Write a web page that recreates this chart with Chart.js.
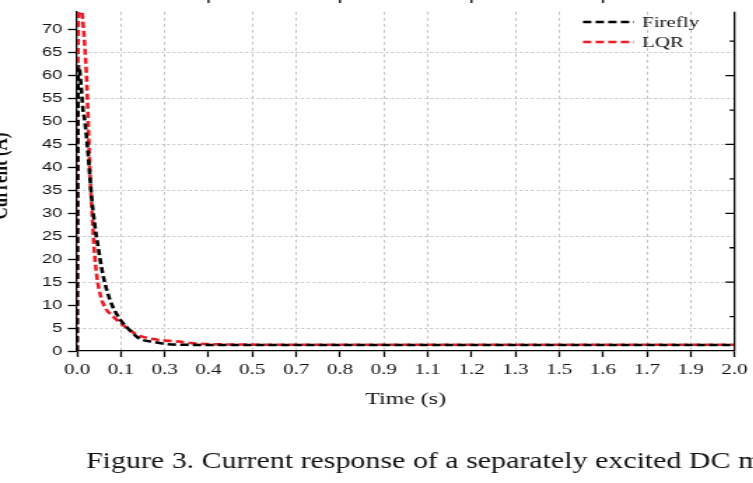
<!DOCTYPE html>
<html>
<head>
<meta charset="utf-8">
<script src="https://cdn.jsdelivr.net/npm/chart.js@4.4.1/dist/chart.umd.min.js"></script>
<style>
  html, body { margin: 0; padding: 0; background: #fff; }
  #wrap { width: 753px; height: 483px; overflow: hidden; }
  /* the source figure is stretched sideways, so the canvas is too */
  #currentChart { transform: scaleX(1.4); transform-origin: 0 0; }
</style>
</head>
<body>
<div id="wrap"><canvas id="currentChart" width="538" height="483"></canvas></div>
<script>
// values
const seriesNames = ['Firefly', 'LQR'];
const fireflyTime    = [0, 0.003, 0.006, 0.012, 0.018, 0.024, 0.033, 0.045, 0.054, 0.063, 0.078, 0.100, 0.130, 0.160, 0.190, 0.230, 0.272, 0.33, 0.45, 0.7, 1.0, 1.5, 2.0];
const fireflyCurrent = [0, 58, 62, 58, 52.7, 50, 43.6, 33, 27.4, 23.2, 16.9, 11.2, 7.0, 4.6, 2.7, 2.0, 1.5, 1.35, 1.3, 1.3, 1.3, 1.3, 1.3];
const lqrTime    = [0, 0.003, 0.008, 0.015, 0.024, 0.030, 0.035, 0.040, 0.046, 0.052, 0.060, 0.070, 0.085, 0.106, 0.139, 0.181, 0.241, 0.302, 0.371, 0.5, 0.7, 1.0, 1.5, 2.0];
const lqrCurrent = [0, 66, 77, 74, 66, 58, 48, 38, 30, 22.5, 16.5, 12.5, 9.5, 7.8, 5.7, 3.6, 2.5, 2.1, 1.6, 1.4, 1.35, 1.35, 1.35, 1.35];
const xTickLabels = ['0.0', '0.1', '0.3', '0.4', '0.5', '0.7', '0.8', '0.9', '1.1', '1.2', '1.3', '1.5', '1.6', '1.7', '1.9', '2.0'];
const yTickLabels = ['0', '5', '10', '15', '20', '25', '30', '35', '40', '45', '50', '55', '60', '65', '70'];
// tick marks of the (cut off) right hand axis, in left-axis units
const rightTicks = [7.5, 15, 22.5, 30, 37.5, 45, 52.5, 60, 67.5];
// tick marks of the (cut off) top axis
const topTicks = [0.4, 0.8, 1.2, 1.6];
const xTitle = 'Time (s)';
const yTitle = 'Current (A)';
const caption = 'Figure 3. Current response of a separately excited DC motor';

const serif = '"Liberation Serif", "Times New Roman", serif';
const sans = '"Liberation Sans", Arial, sans-serif';
const stretch = 1.4;

function toPoints(xs, ys) {
  return xs.map((x, i) => ({ x: x, y: ys[i] }));
}

const extras = {
  id: 'extras',
  afterDraw(chart) {
    const ctx = chart.ctx;
    const area = chart.chartArea;
    const ds = chart.data.datasets;
    const xs = chart.scales.x, ys = chart.scales.y;
    ctx.save();

    // right frame line with inward ticks
    ctx.strokeStyle = '#000';
    ctx.lineWidth = 1.3;
    ctx.beginPath();
    ctx.moveTo(area.right, area.top);
    ctx.lineTo(area.right, area.bottom);
    rightTicks.forEach((v, i) => {
      const py = ys.getPixelForValue(v);
      const len = (i % 2 === 1) ? 6.5 : 3.5;
      ctx.moveTo(area.right, py);
      ctx.lineTo(area.right - len, py);
    });
    topTicks.forEach(v => {
      const px = xs.getPixelForValue(v);
      ctx.moveTo(px, 0);
      ctx.lineTo(px, 3);
    });
    ctx.stroke();

    // legend
    ds.forEach((d, i) => {
      const ly = 22 + i * 20;
      ctx.strokeStyle = d.borderColor;
      ctx.lineWidth = 2.6;
      ctx.setLineDash([6, 3]);
      ctx.beginPath();
      ctx.moveTo(583 / stretch, ly);
      ctx.lineTo(634 / stretch, ly);
      ctx.stroke();
      ctx.setLineDash([]);
      ctx.fillStyle = '#111';
      ctx.font = '15px ' + serif;
      ctx.textBaseline = 'middle';
      ctx.textAlign = 'left';
      ctx.fillText(d.label, 642 / stretch, ly + 1);
    });

    // axis titles
    ctx.fillStyle = '#111';
    ctx.font = '17px ' + serif;
    ctx.textBaseline = 'middle';
    ctx.textAlign = 'center';
    ctx.fillText(xTitle, (area.left + area.right) / 2, 400);

    ctx.save();
    ctx.translate(5, 176);
    ctx.rotate(-Math.PI / 2);
    ctx.font = 'bold 17px ' + serif;
    ctx.textBaseline = 'alphabetic';
    ctx.fillText(yTitle, 0, 0);
    ctx.restore();

    // caption, less stretched than the plot
    ctx.font = '23px ' + serif;
    ctx.textBaseline = 'alphabetic';
    ctx.textAlign = 'left';
    const prefix = 'Figure 3. Current response of a separately excited DC ';
    const k = (652 / stretch) / ctx.measureText(prefix).width;
    ctx.save();
    ctx.translate(86 / stretch, 468);
    ctx.scale(k, 1);
    ctx.fillText(caption, 0, 0);
    ctx.restore();

    ctx.restore();
  }
};

const ctx = document.getElementById('currentChart').getContext('2d');
const chart = new Chart(ctx, {
  type: 'line',
  data: {
    datasets: [
      {
        label: seriesNames[0],
        data: toPoints(fireflyTime, fireflyCurrent),
        borderColor: '#000000',
        borderWidth: 2.6,
        borderDash: [6, 3],
        pointRadius: 0,
        cubicInterpolationMode: 'monotone',
        fill: false
      },
      {
        label: seriesNames[1],
        data: toPoints(lqrTime, lqrCurrent),
        borderColor: '#ec1c24',
        borderWidth: 2.6,
        borderDash: [6, 3],
        pointRadius: 0,
        cubicInterpolationMode: 'monotone',
        fill: false
      }
    ]
  },
  options: {
    responsive: false,
    animation: false,
    layout: { padding: { top: 0, right: 538 - 738 / stretch, left: 0, bottom: 0 } },
    plugins: {
      legend: { display: false },
      tooltip: { enabled: false }
    },
    scales: {
      x: {
        type: 'linear',
        min: 0,
        max: 2,
        afterFit: scale => { scale.height = 132; },
        afterBuildTicks: scale => {
          scale.ticks = xTickLabels.map((l, i) => ({ value: i * 2 / 15 }));
        },
        ticks: {
          autoSkip: false,
          maxRotation: 0,
          padding: 4,
          color: '#111',
          font: { family: serif, size: 15 },
          callback: (v, i) => xTickLabels[i]
        },
        grid: {
          color: c => (c.index % 3 === 0) ? 'rgba(0,0,0,0)' : '#c4c4c4',
          lineWidth: 1,
          tickColor: '#000',
          tickLength: 6,
          tickWidth: 1.3
        },
        border: { color: '#000', width: 1.3, dash: [3, 3] }
      },
      y: {
        min: 0,
        max: 73.9,
        afterFit: scale => { scale.width = 77 / stretch; },
        afterBuildTicks: scale => {
          scale.ticks = yTickLabels.map(l => ({ value: Number(l) }));
        },
        ticks: {
          autoSkip: false,
          padding: 4,
          color: '#111',
          font: { family: sans, size: 13 },
          callback: (v, i) => yTickLabels[i]
        },
        grid: {
          color: c => (c.tick && c.tick.value % 10 === 5) ? '#c4c4c4' : 'rgba(0,0,0,0)',
          lineWidth: 1,
          tickColor: '#000',
          tickLength: 6.5,
          tickWidth: 1.3
        },
        border: { color: '#000', width: 1.3, dash: [2, 2] }
      }
    }
  },
  plugins: [extras]
});
</script>
</body>
</html>
